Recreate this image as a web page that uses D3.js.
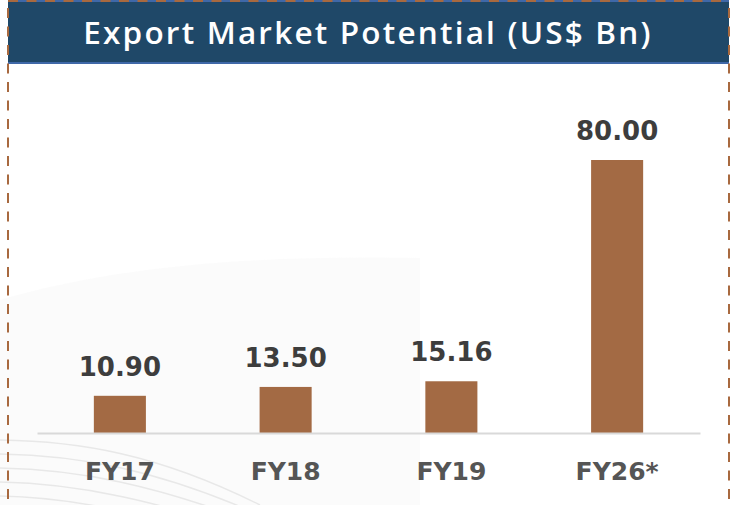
<!DOCTYPE html>
<html>
<head>
<meta charset="utf-8">
<script src="https://cdn.jsdelivr.net/npm/d3@7"></script>
<style>
  html, body { margin: 0; padding: 0; background: #ffffff; }
  #chart { width: 731px; height: 505px; }
</style>
</head>
<body>
<div id="chart"></div>
<script>
const title = "Export Market Potential (US$ Bn)";
const categories = ["FY17", "FY18", "FY19", "FY26*"];
const values = [10.9, 13.5, 15.16, 80.0];
const yDomain = [0, 80];

const width = 731;
const height = 505;
const barColor = "#a36a44";
const borderColor = "#a8693f";
const labelFont = "'DejaVu Sans', sans-serif";

const svg = d3.select("#chart")
  .append("svg")
  .attr("width", width)
  .attr("height", height)
  .attr("viewBox", `0 0 ${width} ${height}`);

// faint decorative swooshes in the background
svg.append("path")
  .attr("d", "M 0 300 C 120 265, 260 255, 420 258 L 420 505 L 0 505 Z")
  .attr("fill", "#f8f8f8")
  .attr("opacity", 0.6);
const swoosh = svg.append("g").attr("fill", "none").attr("stroke", "#e8e8e8").attr("stroke-width", 1.5);
[0, 1, 2, 3, 4].forEach((i) => {
  swoosh.append("path")
    .attr("d", `M -10 ${440 + i * 14} C 80 ${440 + i * 14}, 160 ${455 + i * 16}, 260 ${505 + i * 10}`);
});

// header band
svg.append("rect")
  .attr("x", 8).attr("y", 0)
  .attr("width", 721).attr("height", 64)
  .attr("fill", "#1f4868");
svg.append("line")
  .attr("x1", 8).attr("x2", 729).attr("y1", 63).attr("y2", 63)
  .attr("stroke", "#3f68a8").attr("stroke-width", 2);
svg.append("line")
  .attr("x1", 8).attr("x2", 729).attr("y1", 1).attr("y2", 1)
  .attr("stroke", "#3f68a8").attr("stroke-width", 2);

svg.append("text")
  .attr("x", 368)
  .attr("y", 44)
  .attr("text-anchor", "middle")
  .attr("fill", "#ffffff")
  .attr("font-family", "'Open Sans', sans-serif")
  .attr("font-weight", 600)
  .attr("font-size", 31.5)
  .attr("letter-spacing", 2.2)
  .text(title);

// dashed frame
const dash = svg.append("g")
  .attr("stroke", borderColor)
  .attr("stroke-width", 2)
  .attr("stroke-dasharray", "10 8.5")
  .attr("fill", "none");
dash.append("line").attr("x1", 8).attr("x2", 8).attr("y1", 8).attr("y2", height);
dash.append("line").attr("x1", 729).attr("x2", 729).attr("y1", 8).attr("y2", height);
dash.append("line").attr("x1", 8).attr("x2", 729).attr("y1", 1).attr("y2", 1);

// chart area
const margin = { left: 37, right: 31, baseline: 433, top: 160 };

const x = d3.scaleBand()
  .domain(categories)
  .range([margin.left, width - margin.right])
  .paddingInner(0.686)
  .paddingOuter(0.343);

const y = d3.scaleLinear()
  .domain(yDomain)
  .range([margin.baseline, margin.top]);

const data = categories.map((c, i) => ({ cat: c, value: values[i] }));

svg.append("g")
  .selectAll("rect")
  .data(data)
  .join("rect")
  .attr("x", (d) => x(d.cat))
  .attr("y", (d) => y(d.value))
  .attr("width", x.bandwidth())
  .attr("height", (d) => y(0) - y(d.value))
  .attr("fill", barColor);

svg.append("g")
  .attr("transform", `translate(0, ${margin.baseline})`)
  .call(d3.axisBottom(x).tickSize(0).tickPadding(0))
  .call((g) => g.select(".domain").attr("stroke", "#d9d9d9").attr("stroke-width", 2))
  .call((g) => g.selectAll(".tick text")
    .attr("dy", 0)
    .attr("y", 47)
    .attr("fill", "#555555")
    .attr("font-family", labelFont)
    .attr("font-weight", 700)
    .attr("font-size", 25));

svg.append("g")
  .selectAll("text")
  .data(data)
  .join("text")
  .attr("x", (d) => x(d.cat) + x.bandwidth() / 2)
  .attr("y", (d) => y(d.value) - 20)
  .attr("text-anchor", "middle")
  .attr("fill", "#3d3d3d")
  .attr("font-family", labelFont)
  .attr("font-weight", 700)
  .attr("font-size", 26)
  .text((d) => d.value.toFixed(2));
</script>
</body>
</html>
